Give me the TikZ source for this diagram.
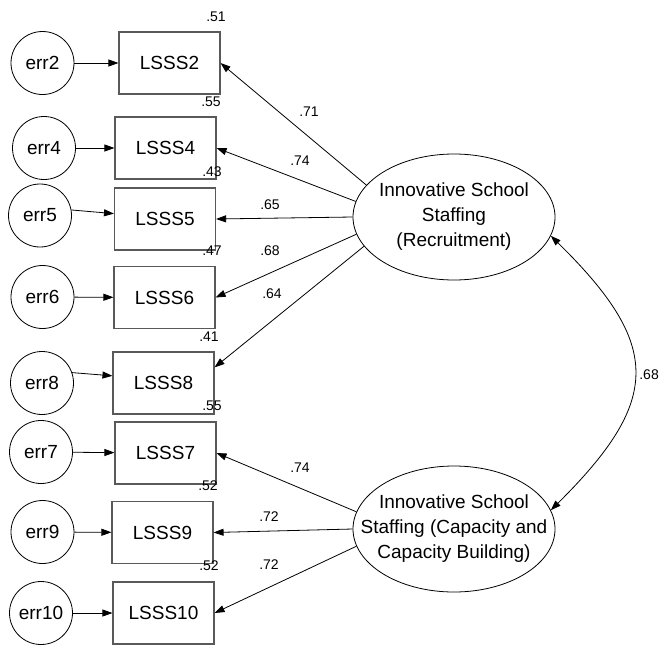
\documentclass[tikz,border=0pt]{standalone}
\usepackage{fontspec}
\setmainfont{Liberation Sans}
\usetikzlibrary{arrows.meta,shapes.geometric}
\begin{document}
\begin{tikzpicture}[x=1pt,y=-1pt,
  every node/.style={font=\fontsize{19}{25}\selectfont},
  obs/.style={draw=black!65, line width=1.1pt, rectangle, minimum width=101pt, minimum height=62pt, inner sep=0pt},
  errc/.style={draw, line width=0.8pt, circle, minimum size=63pt, inner sep=0pt},
  lat/.style={draw, line width=0.8pt, ellipse, minimum width=202pt, minimum height=126pt, inner sep=0pt},
  lattext/.style={align=center, inner sep=0pt},
  lbl/.style={font=\fontsize{14}{16}\selectfont, inner sep=0pt},
  arr/.style={-{Triangle[length=10pt,width=7pt]}, line width=0.8pt},
  biarr/.style={{Triangle[length=10pt,width=7pt]}-{Triangle[length=10pt,width=7pt]}, line width=0.8pt}
]
\useasboundingbox[fill=white] (0,0) rectangle (660,645);

% observed variables
\node[obs] (b2)  at (169.5,63)  {LSSS2};
\node[obs] (b4)  at (165.5,148) {LSSS4};
\node[obs] (b5)  at (165,219)   {LSSS5};
\node[obs] (b6)  at (164.5,297.5) {LSSS6};
\node[obs] (b8)  at (163.5,383) {LSSS8};
\node[obs] (b7)  at (165.5,453) {LSSS7};
\node[obs] (b9)  at (162.5,532.5) {LSSS9};
\node[obs] (b10) at (163.5,613) {LSSS10};

% error terms
\node[errc] (c2)  at (42.5,63)  {err2};
\node[errc] (c4)  at (44,148)   {err4};
\node[errc] (c5)  at (40,215.5) {err5};
\node[errc] (c6)  at (42.5,297) {err6};
\node[errc] (c8)  at (42,383)   {err8};
\node[errc] (c7)  at (41,452)   {err7};
\node[errc] (c9)  at (42.5,532) {err9};
\node[errc] (c10) at (41,613)   {err10};

% latent variables
\node[lat] (e1) at (454,217) {};
\node[lattext] (t1) at (e1) {Innovative School\\Staffing\\(Recruitment)};
\node[lat] (e2) at (454,529) {};
\node[lattext] (t2) at (e2) {Innovative School\\Staffing (Capacity and\\Capacity Building)};

% error arrows
\draw[arr] (c2) -- (b2);
\draw[arr] (c4) -- (b4);
\draw[arr] (c5.10) -- (b5.174);
\draw[arr] (c6) -- (b6);
\draw[arr] (c8.19) -- (b8.172);
\draw[arr] (c7) -- (b7);
\draw[arr] (c9) -- (b9);
\draw[arr] (c10) -- (b10);

% loadings
\draw[arr] (e1.160) -- (b2.east);
\draw[arr] (e1.171) -- (b4.east);
\draw[arr] (e1.180) -- (b5.east);
\draw[arr] (e1.190) -- (b6.east);
\draw[arr] (e1.198) -- (b8.17.6);
\draw[arr] (e2.170) -- (b7.east);
\draw[arr] (e2.180) -- (b9.east);
\draw[arr] (e2.190) -- (b10.east);

% covariance
\draw[biarr] (e1.-11) .. controls (662,345) and (662,400) .. (e2.11);

% R-squared labels
\node[lbl] (r2)  at (216,16.5) {.51};
\node[lbl] (r4)  at (211,101.5) {.55};
\node[lbl] (r5)  at (212,172) {.43};
\node[lbl] (r6)  at (212,251) {.47};
\node[lbl] (r8)  at (209,337) {.41};
\node[lbl] (r7)  at (212,406) {.55};
\node[lbl] (r9)  at (208,486) {.52};
\node[lbl] (r10) at (209,566) {.52};

% loading labels
\node[lbl] (l2)  at (309,112) {.71};
\node[lbl] (l4)  at (300,161) {.74};
\node[lbl] (l5)  at (270,205) {.65};
\node[lbl] (l6)  at (270,251) {.68};
\node[lbl] (l8)  at (272,294) {.64};
\node[lbl] (l7)  at (300,468) {.74};
\node[lbl] (l9)  at (269,517) {.72};
\node[lbl] (l10) at (269,565) {.72};
\node[lbl, anchor=east] (lc) at (659,375) {.68};
\end{tikzpicture}
\end{document}
